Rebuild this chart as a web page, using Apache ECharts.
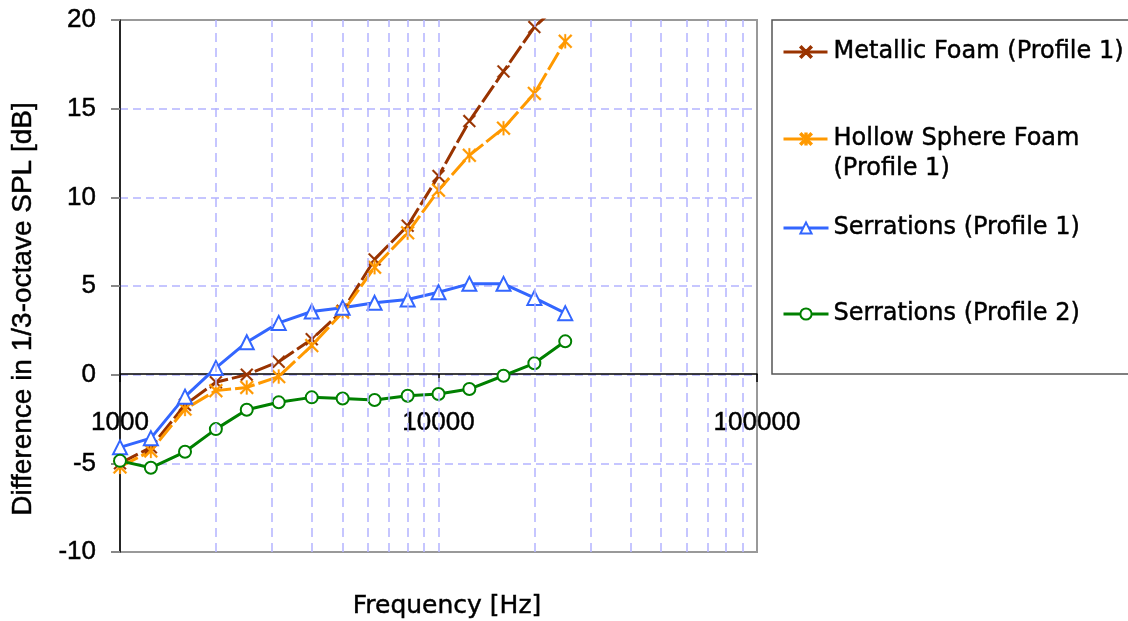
<!DOCTYPE html>
<html>
<head>
<meta charset="utf-8">
<script src="https://cdn.jsdelivr.net/npm/echarts@6/dist/echarts.min.js"></script>
<style>html,body{margin:0;padding:0;background:#fff}#c{width:1128px;height:621px}</style>
</head>
<body>
<div id="c"></div>
<script>
// ---- data ----
var freqs = [1000, 1250, 1600, 2000, 2500, 3150, 4000, 5000, 6300, 8000, 10000, 12500, 16000, 20000, 25000];
var metallicFoam = [-5.0, -4.1, -1.7, -0.43, 0.0, 0.73, 2.0, 3.6, 6.5, 8.4, 11.2, 14.3, 17.1, 19.6, 21.2];
var hollowSphere = [-5.2, -4.3, -1.94, -0.9, -0.72, -0.11, 1.64, 3.52, 6.06, 8.0, 10.4, 12.37, 13.9, 15.86, 18.8];
var serrations1 = [-4.1, -3.58, -1.24, 0.38, 1.83, 2.92, 3.56, 3.77, 4.05, 4.24, 4.65, 5.12, 5.12, 4.33, 3.47];
var serrations2 = [-4.86, -5.25, -4.35, -3.07, -1.98, -1.56, -1.28, -1.34, -1.43, -1.19, -1.09, -0.81, -0.06, 0.64, 1.88];
var seriesNames = ['Metallic Foam (Profile 1)', 'Hollow Sphere Foam (Profile 1)', 'Serrations (Profile 1)', 'Serrations (Profile 2)'];
var yTicks = [-10, -5, 0, 5, 10, 15, 20];
var xDecades = [1000, 10000, 100000];
var gridFreqs = [2000, 3000, 4000, 5000, 6000, 7000, 8000, 9000, 10000, 20000, 30000, 40000, 50000, 60000, 70000, 80000, 90000];
var yTitle = 'Difference in 1/3-octave SPL [dB]';
var xTitle = 'Frequency [Hz]';

function pairs(vals) { return freqs.map(function (f, i) { return [f, vals[i]]; }); }

var crossPath = 'path://M0,1 L1,0 L5,4 L9,0 L10,1 L6,5 L10,9 L9,10 L5,6 L1,10 L0,9 L4,5 Z';
var starPath = 'path://M0,1 L1,0 L5,4 L9,0 L10,1 L6,5 L10,9 L9,10 L5,6 L1,10 L0,9 L4,5 Z M4.4,0 L5.6,0 L5.6,10 L4.4,10 Z';

var colors = ['#993300', '#FF9900', '#3366FF', '#008000'];
var axisFont = 'Liberation Sans';
var legFont = 'DejaVu Sans';
var heavy = { textBorderColor: '#000', textBorderWidth: 0.45 };

function legendAt(name, top) {
  return {
    data: [name], left: 782, top: top, padding: 0, orient: 'vertical',
    itemWidth: 45, itemHeight: 14, selectedMode: false,
    lineStyle: { width: 3 },
    textStyle: Object.assign({ fontFamily: legFont, fontSize: 24, lineHeight: 30, color: '#000' }, heavy),
    formatter: function (n) { return n === seriesNames[1] ? '\nHollow Sphere Foam\n(Profile 1)' : n; }
  };
}

var chart = echarts.init(document.getElementById('c'), null, { renderer: 'canvas' });
chart.setOption({
  animation: false,
  backgroundColor: '#fff',
  grid: { left: 120, right: 371, top: 20, bottom: 69, show: true, borderColor: '#999', borderWidth: 2, backgroundColor: 'transparent' },
  xAxis: {
    type: 'log', logBase: 10, min: xDecades[0], max: xDecades[2], position: 'bottom', offset: -178,
    axisLine: { onZero: false, lineStyle: { color: '#000', width: 1.5 } },
    axisTick: { show: true, length: 8, lineStyle: { color: '#000', width: 1.5 } },
    axisLabel: Object.assign({ fontFamily: axisFont, fontSize: 26, color: '#000', margin: 36,
      formatter: function (v) { return String(Math.round(v)); } }, heavy),
    splitLine: { show: false },
    minorTick: { show: false }
  },
  yAxis: {
    type: 'value', min: yTicks[0], max: yTicks[yTicks.length - 1], interval: 5,
    axisLine: { show: true, onZero: false, lineStyle: { color: '#000', width: 1.5 } },
    axisTick: { show: true, length: 9, lineStyle: { color: '#888', width: 2 } },
    axisLabel: Object.assign({ fontFamily: axisFont, fontSize: 26, color: '#000', margin: 24 }, heavy),
    splitLine: { show: true, showMinLine: false, showMaxLine: false, lineStyle: { type: [8, 5], color: '#b4b4ff', width: 1.5 } }
  },
  legend: [legendAt(seriesNames[0], 37), legendAt(seriesNames[1], 94), legendAt(seriesNames[2], 213), legendAt(seriesNames[3], 299)],
  graphic: [
    { type: 'rect', shape: { x: 772, y: 20, width: 420, height: 354 }, style: { fill: 'none', stroke: '#555', lineWidth: 1.5 }, silent: true, z: 0 },
    { type: 'text', x: 23, y: 309, rotation: Math.PI / 2, style: Object.assign({ text: yTitle, fontFamily: axisFont, fontSize: 28, fill: '#000', stroke: '#000', lineWidth: 0.45, textAlign: 'center', textVerticalAlign: 'middle' }) },
    { type: 'text', x: 447, y: 606, style: Object.assign({ text: xTitle, fontFamily: legFont, fontSize: 25, fill: '#000', stroke: '#000', lineWidth: 0.45, textAlign: 'center', textVerticalAlign: 'middle' }) }
  ],
  series: [
    {
      type: 'line', name: '_grid', data: [], silent: true, z: 1,
      markLine: { silent: true, symbol: ['none', 'none'], label: { show: false }, animation: false,
        lineStyle: { type: [9, 6], color: '#b4b4ff', width: 1.5 },
        data: gridFreqs.map(function (f) { return { xAxis: f }; }) }
    },
    {
      type: 'line', name: seriesNames[0], data: pairs(metallicFoam), color: colors[0],
      symbol: crossPath, symbolSize: 13, clip: true,
      lineStyle: { color: colors[0], width: 3, type: [20, 4] },
      itemStyle: { color: colors[0], borderWidth: 0.3, borderColor: colors[0] }
    },
    {
      type: 'line', name: seriesNames[1], data: pairs(hollowSphere), color: colors[1],
      symbol: starPath, symbolSize: 14, clip: true,
      lineStyle: { color: colors[1], width: 3, type: [20, 4] },
      itemStyle: { color: colors[1], borderWidth: 0.3, borderColor: colors[1] }
    },
    {
      type: 'line', name: seriesNames[2], data: pairs(serrations1), color: colors[2],
      symbol: 'emptyTriangle', symbolSize: 14, clip: true,
      lineStyle: { color: colors[2], width: 3 },
      itemStyle: { color: colors[2], borderWidth: 1.5 }
    },
    {
      type: 'line', name: seriesNames[3], data: pairs(serrations2), color: colors[3],
      symbol: 'emptyCircle', symbolSize: 12, clip: true,
      lineStyle: { color: colors[3], width: 3 },
      itemStyle: { color: colors[3], borderWidth: 1.5 }
    }
  ]
});
</script>
</body>
</html>
